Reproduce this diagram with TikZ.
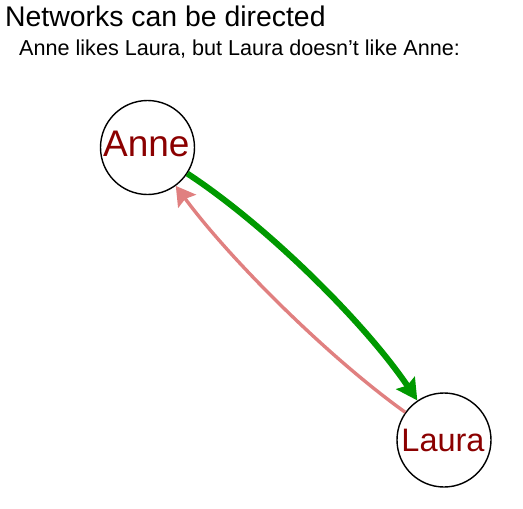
\documentclass[tikz,border=0pt]{standalone}
\usepackage{fontspec}
\setmainfont{Liberation Sans}
\usetikzlibrary{arrows.meta}
\definecolor{edgegreen}{RGB}{0,153,0}
\definecolor{edgepink}{RGB}{224,128,128}
\definecolor{labelred}{RGB}{139,0,0}
\begin{document}
\begin{tikzpicture}[x=1pt,y=-1pt,
  vertex/.style={circle,draw=black,line width=1.4pt,minimum size=94pt,inner sep=0pt,fill=white},
  vlabel/.style={anchor=base,text=labelred,inner sep=0pt},
  likes/.style={draw=edgegreen,line width=6pt,-{Stealth[length=21pt,width=22pt,inset=3pt]}},
  likesback/.style={draw=edgepink,line width=3.4pt,-{Stealth[length=19pt,width=22pt,inset=3pt]}}]
\useasboundingbox (0,0) rectangle (523,509);
\node[anchor=base west,inner sep=0pt,font=\fontsize{28.4}{32}\selectfont] (title) at (5,26.7) {Networks can be directed};
\node[anchor=base west,inner sep=0pt,font=\fontsize{21.6}{25}\selectfont] (sub) at (19,55) {Anne likes Laura, but Laura doesn’t like Anne:};
\node[vertex] (anne) at (147.5,147.5) {};
\node[vertex] (laura) at (444,440) {};
\node[vlabel,font=\fontsize{37}{40}\selectfont] (annelabel) at (146.3,156.7) {Anne};
\node[vlabel,font=\fontsize{32.5}{36}\selectfont] (lauralabel) at (443,451.7) {Laura};
% cubic equivalents of quadratic curves between the centres
\coordinate (g1) at (266,225);
\coordinate (g2) at (364.8,322.6);
\coordinate (p1) at (329.7,358.2);
\coordinate (p2) at (230.9,260.7);
\draw[likes] (anne) .. controls (g1) and (g2) .. (laura);
\draw[likesback] (laura) .. controls (p1) and (p2) .. (anne);
\end{tikzpicture}
\end{document}
